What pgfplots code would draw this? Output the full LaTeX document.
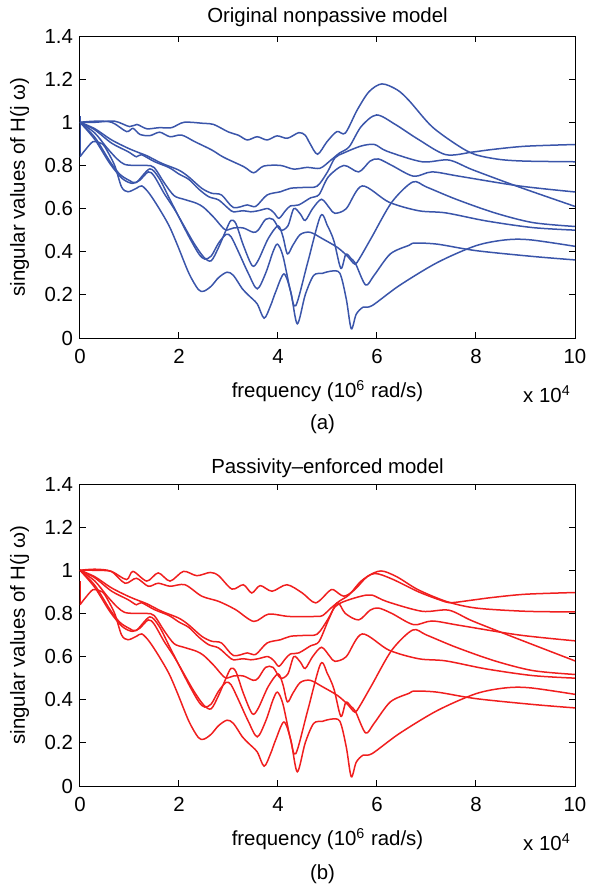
\documentclass[border=0pt]{standalone}
\usepackage{fontspec}
\setmainfont{Liberation Sans}
\usepackage{pgfplots}
\usepackage{pgfplotstable}
\pgfplotsset{compat=1.18}

\definecolor{mblue}{HTML}{3A55AA}
\definecolor{mred}{HTML}{F01E1E}

% singular value curves, x in units of 1e4
\pgfplotstableread{
x y
0 1.0
0.3 1.0
0.7 1.005
1.0 0.98
1.15 0.99
1.35 0.97
1.6 0.975
1.85 0.975
2.1 1.0
2.5 0.995
2.7 0.99
3.0 0.955
3.2 0.94
3.38 0.918
3.58 0.933
3.78 0.918
3.98 0.937
4.19 0.926
4.42 0.952
4.55 0.94
4.65 0.90
4.8 0.852
4.99 0.91
5.19 0.957
5.36 0.95
5.6 1.057
5.84 1.142
6.1 1.178
6.41 1.15
6.65 1.10
7.11 0.98
7.65 0.89
7.99 0.85
8.47 0.828
9.0 0.82
10 0.817
}\cA
\pgfplotstableread{
x y
0 1.0
0.3 1.005
0.64 1.0
0.94 0.957
1.07 0.972
1.21 0.944
1.41 0.938
1.61 0.954
1.82 0.933
2.05 0.941
2.32 0.91
2.66 0.872
2.9 0.838
3.31 0.794
3.51 0.766
3.71 0.797
4.05 0.80
4.32 0.783
4.59 0.791
4.85 0.787
5.07 0.825
5.24 0.857
5.44 0.887
5.68 0.98
5.99 1.034
6.37 0.99
6.84 0.92
7.39 0.85
7.93 0.862
8.33 0.874
9.0 0.889
10 0.897
}\cB
\pgfplotstableread{
x y
0 1.0
0.3 0.97
0.64 0.918
0.97 0.88
1.18 0.86
1.35 0.845
1.65 0.81
1.99 0.779
2.19 0.748
2.46 0.694
2.66 0.671
2.86 0.663
3.1 0.605
3.38 0.617
3.55 0.61
3.78 0.663
4.05 0.678
4.25 0.694
4.52 0.698
4.79 0.704
5.0 0.77
5.15 0.835
5.33 0.858
5.68 0.89
5.95 0.897
6.2 0.866
6.91 0.817
7.45 0.825
7.93 0.78
8.87 0.70
10 0.61
}\cC
\pgfplotstableread{
x y
0 1.0
0.3 0.965
0.64 0.903
0.97 0.864
1.14 0.84
1.24 0.85
1.5 0.818
1.8 0.79
2.0 0.76
2.2 0.735
2.4 0.69
2.6 0.655
2.8 0.64
3.0 0.60
3.1 0.585
3.3 0.59
3.45 0.585
3.6 0.59
3.8 0.60
3.92 0.58
4.02 0.555
4.15 0.59
4.25 0.612
4.42 0.617
4.66 0.65
4.83 0.665
5.02 0.748
5.33 0.80
5.63 0.77
5.86 0.82
6.03 0.83
6.3 0.80
6.74 0.75
7.11 0.77
7.66 0.75
8.87 0.705
10 0.677
}\cD
\pgfplotstableread{
x y
0 1.0
0.3 0.95
0.55 0.88
0.75 0.83
0.9 0.805
1.1 0.80
1.35 0.80
1.5 0.79
1.7 0.72
1.9 0.66
2.1 0.643
2.35 0.625
2.5 0.605
2.7 0.56
2.85 0.52
2.95 0.50
3.1 0.51
3.3 0.51
3.5 0.49
3.6 0.50
3.75 0.55
3.9 0.55
4.05 0.50
4.2 0.52
4.32 0.60
4.45 0.575
4.55 0.545
4.7 0.60
4.88 0.643
5.05 0.60
5.15 0.578
5.38 0.60
5.7 0.705
6.24 0.63
6.84 0.59
7.39 0.58
8.2 0.543
9.14 0.512
10 0.50
}\cE
\pgfplotstableread{
x y
0 1.0
0.3 0.93
0.6 0.82
0.8 0.76
1.0 0.73
1.14 0.722
1.41 0.784
1.6 0.74
1.8 0.65
2.0 0.56
2.2 0.47
2.4 0.39
2.52 0.366
2.65 0.38
2.8 0.44
2.95 0.48
3.05 0.47
3.2 0.40
3.4 0.30
3.58 0.228
3.75 0.30
3.9 0.40
3.99 0.435
4.1 0.38
4.25 0.22
4.36 0.15
4.6 0.35
4.86 0.566
5.0 0.52
5.13 0.45
5.27 0.323
5.37 0.388
5.47 0.37
5.57 0.343
5.77 0.246
5.94 0.29
6.27 0.39
6.65 0.43
6.76 0.44
7.22 0.435
8.0 0.405
9.15 0.378
10 0.362
}\cF
\pgfplotstableread{
x y
0 1.0
0.3 0.92
0.6 0.81
0.85 0.74
1.05 0.717
1.2 0.73
1.38 0.77
1.5 0.75
1.7 0.67
1.9 0.60
2.1 0.52
2.3 0.44
2.5 0.375
2.65 0.358
2.8 0.42
2.95 0.50
3.05 0.545
3.15 0.53
3.3 0.43
3.48 0.335
3.6 0.36
3.8 0.46
4.0 0.52
4.1 0.47
4.19 0.39
4.3 0.43
4.45 0.48
4.65 0.49
4.9 0.46
5.2 0.42
5.4 0.38
5.55 0.343
5.65 0.37
5.9 0.47
6.3 0.63
6.72 0.723
7.0 0.70
7.6 0.643
8.38 0.58
9.15 0.535
10 0.517
}\cG
\pgfplotstableread{
x y
0 0.84
0.1 0.87
0.26 0.91
0.4 0.905
0.5 0.887
0.7 0.80
0.84 0.70
0.97 0.678
1.14 0.694
1.25 0.705
1.4 0.67
1.6 0.60
1.8 0.52
1.97 0.43
2.2 0.30
2.39 0.225
2.5 0.217
2.65 0.24
2.8 0.28
2.97 0.305
3.1 0.29
3.28 0.228
3.41 0.197
3.58 0.158
3.72 0.092
3.85 0.15
3.95 0.212
4.12 0.297
4.26 0.212
4.39 0.066
4.55 0.2
4.72 0.29
4.9 0.30
5.07 0.31
5.25 0.30
5.38 0.18
5.48 0.043
5.58 0.11
5.72 0.143
5.9 0.15
6.45 0.243
7.22 0.35
8.0 0.428
8.6 0.455
9.1 0.455
10 0.425
}\cH
% passivity-enforced model: curves that differ
\pgfplotstableread{
x y
0 1.0
0.3 1.0
0.63 0.995
0.94 0.957
1.07 0.995
1.35 0.95
1.58 0.988
1.82 0.95
2.09 0.995
2.36 0.975
2.63 0.99
2.8 0.975
3.07 0.913
3.3 0.933
3.47 0.895
3.64 0.929
3.88 0.903
4.18 0.933
4.49 0.895
4.76 0.849
5.03 0.903
5.12 0.91
5.33 0.88
5.55 0.91
5.8 0.97
6.08 0.997
6.4 0.97
6.83 0.91
7.41 0.855
8.0 0.825
9.0 0.81
10 0.807
}\cAb
\pgfplotstableread{
x y
0 1.0
0.3 1.005
0.63 0.995
0.91 0.94
1.14 0.963
1.38 0.926
1.58 0.94
1.82 0.926
2.12 0.933
2.46 0.88
2.8 0.856
3.14 0.818
3.51 0.763
3.81 0.797
4.22 0.786
4.76 0.786
4.9 0.79
5.07 0.825
5.24 0.857
5.44 0.887
5.68 0.95
5.95 0.985
6.3 0.96
6.84 0.90
7.3 0.86
7.5 0.85
7.93 0.862
8.33 0.874
9.0 0.889
10 0.897
}\cBb
\pgfplotstableread{
x y
0 1.0
0.3 0.97
0.64 0.918
0.97 0.88
1.18 0.86
1.35 0.845
1.65 0.81
1.99 0.779
2.19 0.748
2.46 0.694
2.66 0.671
2.86 0.663
3.1 0.605
3.38 0.617
3.55 0.61
3.78 0.663
4.05 0.678
4.25 0.694
4.52 0.698
4.79 0.704
5.0 0.77
5.15 0.83
5.33 0.855
5.68 0.88
5.9 0.885
6.2 0.855
6.91 0.81
7.45 0.815
7.93 0.765
8.87 0.68
10 0.58
}\cCb
\pgfplotstableread{
x y
0 1.0
0.3 0.965
0.64 0.903
0.97 0.864
1.14 0.84
1.24 0.85
1.5 0.818
1.8 0.79
2.0 0.76
2.2 0.735
2.4 0.69
2.6 0.655
2.8 0.64
3.0 0.60
3.1 0.585
3.3 0.59
3.45 0.585
3.6 0.59
3.8 0.60
3.92 0.58
4.02 0.555
4.15 0.59
4.25 0.612
4.42 0.617
4.66 0.65
4.83 0.67
5.02 0.77
5.2 0.85
5.36 0.80
5.63 0.77
5.86 0.815
6.03 0.825
6.3 0.80
6.74 0.748
7.11 0.765
7.66 0.745
8.87 0.70
10 0.673
}\cDb

\newcommand{\figfont}{\fontsize{10.2}{12}\selectfont}

\pgfplotsset{
  svaxis/.style={
    scale only axis,
    width=247.5pt, height=151pt,
    xmin=0, xmax=10, ymin=0, ymax=1.4,
    xtick={0,2,4,6,8,10},
    ytick={0,0.2,0.4,0.6,0.8,1,1.2,1.4},
    tick align=inside,
    major tick length=2.8pt,
    axis line style={line width=0.5pt},
    tick style={line width=0.5pt, black},
    /pgf/number format/assume math mode=true,
    every tick label/.append style={font=\figfont},
    xticklabel style={yshift=-2pt},
    label style={font=\figfont},
    title style={font=\figfont, at={(0.5,1)}, anchor=center},
    xlabel={frequency (10\textsuperscript{6} rad/s)},
    xlabel style={at={(axis description cs:0.5,0)}, anchor=center, yshift=-26.5pt},
    ylabel={singular values of H(j ω)},
    ylabel style={at={(axis description cs:-0.122,0.5)}, anchor=center},
    every axis plot/.append style={line width=0.75pt, smooth, tension=0.5},
  }
}

\begin{document}
\begin{tikzpicture}
\useasboundingbox (-40pt,-276pt) rectangle (258.5pt,169pt);
\begin{axis}[svaxis,
  title={Original nonpassive model},
  title style={yshift=3.5pt},
  after end axis/.code={
    \node[font=\figfont] at ([xshift=-14pt,yshift=-28pt]rel axis cs:1,0) {x 10\textsuperscript{4}};
    \node[font=\figfont] at ([yshift=-43pt]rel axis cs:0.49,0) {(a)};
  }]
  \addplot[mblue] table {\cA};
  \addplot[mblue] table {\cB};
  \addplot[mblue] table {\cC};
  \addplot[mblue] table {\cD};
  \addplot[mblue] table {\cE};
  \addplot[mblue] table {\cF};
  \addplot[mblue] table {\cG};
  \addplot[mblue] table {\cH};
  \addplot[mblue, sharp plot] coordinates {(0,0.84) (0,1.03)};
\end{axis}
\begin{axis}[svaxis, at={(0,-224pt)},
  title={Passivity\textendash enforced model},
  title style={yshift=2pt},
  after end axis/.code={
    \node[font=\figfont] at ([xshift=-14pt,yshift=-28pt]rel axis cs:1,0) {x 10\textsuperscript{4}};
    \node[font=\figfont] at ([yshift=-44pt]rel axis cs:0.49,0) {(b)};
  }]
  \addplot[mred] table {\cAb};
  \addplot[mred] table {\cBb};
  \addplot[mred] table {\cCb};
  \addplot[mred] table {\cDb};
  \addplot[mred] table {\cE};
  \addplot[mred] table {\cF};
  \addplot[mred] table {\cG};
  \addplot[mred] table {\cH};
  \addplot[mred, sharp plot] coordinates {(0,0.84) (0,0.95)};
\end{axis}
\end{tikzpicture}
\end{document}
